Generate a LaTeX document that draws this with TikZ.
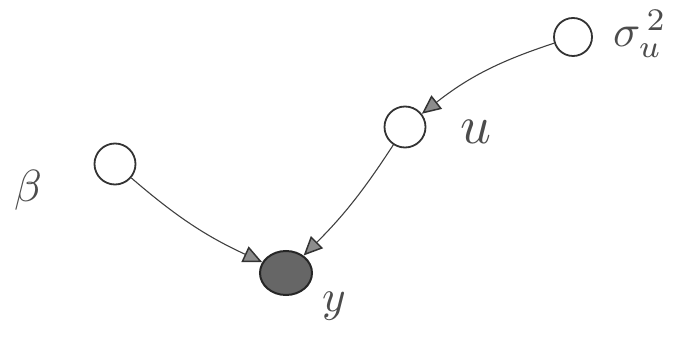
\documentclass[tikz,border=0pt]{standalone}
\usepackage{amsmath,amssymb}
\usepackage{tikz}
\usetikzlibrary{arrows.meta,shapes.geometric}
\tikzset{
  var/.style={draw=black!80,line width=1.8pt,circle,minimum size=41pt,inner sep=0pt},
  obs/.style={draw=black!85,line width=2pt,ellipse,fill=black!60,minimum width=52pt,minimum height=44pt,inner sep=0pt},
  lab/.style={text=black!70,scale=4.5,inner sep=0pt},
  edge/.style={draw=black!75,line width=1.1pt,-{Triangle[length=19pt,width=17pt,line width=1.5pt,fill=black!45,color=black!80]}}
}
\begin{document}
\begin{tikzpicture}[x=1pt,y=-1pt]
\useasboundingbox (0,0) rectangle (682,344);
% nodes
\node[var] (beta) at (115,164) {};
\node[var] (u) at (405,127) {};
\node[var,minimum size=38pt] (sig) at (573,37) {};
\node[obs] (y) at (286,273) {};
% labels
\node[lab] (betal) at (28,190) {$\beta$};
\node[lab,scale=1.2] (ul) at (476,132) {$u$};
\node[lab] (sigl) at (640,34) {$\sigma_u^{\,2}$};
\node[lab] (yl) at (334,306) {$y$};
% edges
\draw[edge] (beta) to[bend right=8] (y);
\draw[edge] (u) to[bend left=6] (y);
\draw[edge] (sig) to[bend right=10] (u);
\end{tikzpicture}
\end{document}
